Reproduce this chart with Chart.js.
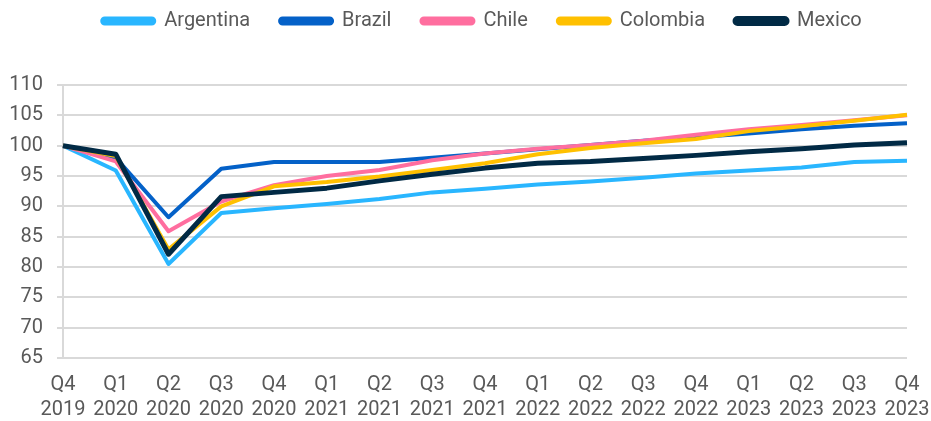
<!DOCTYPE html>
<html>
<head>
<meta charset="utf-8">
<title>GDP index</title>
<script src="https://cdn.jsdelivr.net/npm/chart.js@4.4.1/dist/chart.umd.min.js"></script>
<style>
    html, body { margin: 0; padding: 0; background: #fff; }
    #wrap { width: 931px; height: 421px; }
</style>
</head>
<body>
<div id="wrap"><canvas id="gdpChart" width="931" height="421"></canvas></div>
<script>
// quarters, two-line labels
var quarters = [
    ['Q4', '2019'], ['Q1', '2020'], ['Q2', '2020'], ['Q3', '2020'], ['Q4', '2020'],
    ['Q1', '2021'], ['Q2', '2021'], ['Q3', '2021'], ['Q4', '2021'],
    ['Q1', '2022'], ['Q2', '2022'], ['Q3', '2022'], ['Q4', '2022'],
    ['Q1', '2023'], ['Q2', '2023'], ['Q3', '2023'], ['Q4', '2023']
];

// index, Q4 2019 = 100
var argentina = [100, 95.9, 80.5, 88.9, 89.7, 90.4, 91.2, 92.3, 92.9, 93.6, 94.1, 94.7, 95.4, 95.9, 96.4, 97.3, 97.5];
var brazil    = [100, 98.0, 88.2, 96.2, 97.3, 97.3, 97.3, 98.0, 98.7, 99.4, 100.1, 100.8, 101.4, 102.0, 102.7, 103.3, 103.7];
var chile     = [100, 97.4, 85.9, 90.8, 93.5, 95.0, 96.0, 97.6, 98.7, 99.5, 100.1, 100.8, 101.8, 102.7, 103.4, 104.2, 105.0];
var colombia  = [100, 98.3, 82.9, 90.0, 93.3, 94.0, 94.9, 96.0, 97.1, 98.6, 99.6, 100.4, 101.1, 102.4, 103.2, 104.1, 105.1];
var mexico    = [100, 98.6, 82.1, 91.6, 92.3, 93.0, 94.2, 95.3, 96.3, 97.1, 97.4, 97.9, 98.4, 99.0, 99.5, 100.1, 100.5];

var yMin = 65, yMax = 110, yStep = 5;

var textColor = '#595959';
var gridColor = '#d9d9d9';
var fontFamily = 'Roboto, "Noto Sans", sans-serif';

function line(label, data, color, width, order) {
    return {
        label: label,
        data: data,
        borderColor: color,
        backgroundColor: color,
        borderWidth: width,
        pointRadius: 0,
        pointHoverRadius: 0,
        tension: 0,
        borderJoinStyle: 'round',
        fill: false,
        order: order
    };
}

// extra room under the legend, then pull it up to the top edge and over the plot
var legendSpacing = {
    id: 'legendSpacing',
    beforeInit: function(chart) {
        var fit = chart.legend.fit;
        chart.legend.fit = function() {
            fit.call(this);
            this.height += 25;
        };
    },
    afterLayout: function(chart) {
        var lg = chart.legend;
        lg.top -= 19;
        lg.left += 24;
        lg.right += 24;
    }
};

var ctx = document.getElementById('gdpChart').getContext('2d');
var chart = new Chart(ctx, {
    type: 'line',
    data: {
        labels: quarters,
        datasets: [
            line('Argentina', argentina, '#29B6FF', 4, 5),
            line('Brazil', brazil, '#0461C8', 4, 4),
            line('Chile', chile, '#FF6E9F', 4, 3),
            line('Colombia', colombia, '#FFC000', 4, 2),
            line('Mexico', mexico, '#012A45', 5, 1)
        ]
    },
    options: {
        responsive: false,
        animation: false,
        devicePixelRatio: 1,
        layout: {
            padding: { left: 9, right: 24, top: 0, bottom: 0 }
        },
        plugins: {
            legend: {
                position: 'top',
                align: 'center',
                labels: {
                    color: textColor,
                    font: { family: fontFamily, size: 20 },
                    boxWidth: 52,
                    boxHeight: 5,
                    useBorderRadius: true,
                    borderRadius: 2.5,
                    padding: 30,
                    sort: function(a, b) { return a.datasetIndex - b.datasetIndex; }
                }
            },
            tooltip: { enabled: false }
        },
        scales: {
            x: {
                offset: false,
                grid: { display: false, drawTicks: false },
                border: { display: false },
                ticks: {
                    color: textColor,
                    font: { family: fontFamily, size: 20, lineHeight: 1.25 },
                    maxRotation: 0,
                    autoSkip: false,
                    padding: 14
                },
                afterFit: function(scale) {
                    scale.height = 63;
                    scale.paddingLeft = 0;
                    scale.paddingRight = 0;
                }
            },
            y: {
                min: yMin,
                max: yMax,
                grid: {
                    color: gridColor,
                    lineWidth: 2,
                    tickLength: 6
                },
                border: { display: true, color: gridColor, width: 2 },
                ticks: {
                    stepSize: yStep,
                    color: textColor,
                    font: { family: fontFamily, size: 20 },
                    padding: 14
                },
                afterFit: function(scale) {
                    scale.width = 54;
                }
            }
        }
    },
    plugins: [legendSpacing]
});
</script>
</body>
</html>
